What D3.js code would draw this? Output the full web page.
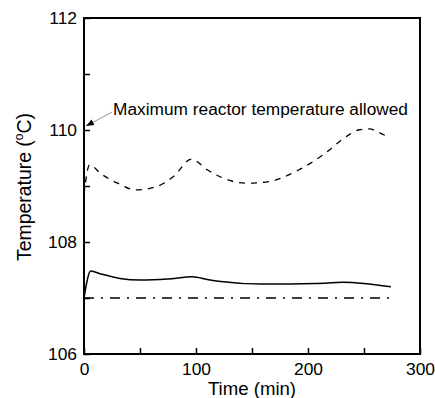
<!DOCTYPE html>
<html>
<head>
<meta charset="utf-8">
<script src="https://cdn.jsdelivr.net/npm/d3@7"></script>
<style>
  body { margin: 0; background: #fff; }
  svg { display: block; }
  text { font-family: Arial, "Liberation Sans", sans-serif; }
</style>
</head>
<body>
<div id="chart"></div>
<script>
// dashed curve
const timeDashed = [0, 5, 15, 30, 46, 65, 80, 96, 110, 121, 144, 165, 192, 213, 234, 245, 255, 262, 270];
const tempDashed = [108.85, 109.38, 109.22, 109.05, 108.93, 108.99, 109.17, 109.48, 109.29, 109.17, 109.05, 109.08, 109.29, 109.55, 109.88, 110.0, 110.02, 109.97, 109.89];
// solid curve
const timeSolid = [0, 6, 15, 32, 50, 75, 97, 110, 120, 159, 207, 231, 250, 274];
const tempSolid = [107.0, 107.48, 107.43, 107.35, 107.32, 107.34, 107.38, 107.33, 107.3, 107.25, 107.26, 107.28, 107.26, 107.2];
// dash-dot line
const timeSet = [0, 273];
const tempSet = [107.0, 107.0];

const xTicks = [0, 50, 100, 150, 200, 250, 300];
const yTicks = [106, 107, 108, 109, 110, 111, 112];
const annotation = "Maximum reactor temperature allowed";

const W = 435, H = 398;
const margin = { top: 18, left: 84 };
const width = 336, height = 336;

const svg = d3.select("#chart").append("svg")
  .attr("width", W).attr("height", H);
const g = svg.append("g")
  .attr("transform", "translate(" + margin.left + "," + margin.top + ")");

const x = d3.scaleLinear().domain([0, 300]).range([0, width]);
const y = d3.scaleLinear().domain([106, 112]).range([height, 0]);

// Axes with inside ticks
const xAxis = g.append("g")
  .attr("transform", "translate(0," + height + ")")
  .call(d3.axisBottom(x).tickValues(xTicks).tickSizeInner(-6).tickSizeOuter(0).tickPadding(9)
    .tickFormat(d => d % 100 === 0 ? d : ""));
const yAxis = g.append("g")
  .call(d3.axisLeft(y).tickValues(yTicks).tickSizeInner(-6).tickSizeOuter(0).tickPadding(7)
    .tickFormat(d => d % 2 === 0 ? d : ""));
[xAxis, yAxis].forEach(a => {
  a.select(".domain").remove();
  a.selectAll("line").attr("stroke", "#000").attr("stroke-width", 1.5);
  a.selectAll("text").attr("font-size", 17.4).attr("fill", "#000")
    .style("font-family", "Arial, 'Liberation Sans', sans-serif");
});

// frame
g.append("rect")
  .attr("x", 0).attr("y", 0).attr("width", width).attr("height", height)
  .attr("fill", "none").attr("stroke", "#000").attr("stroke-width", 2);

const line = d3.line()
  .x(d => x(d[0])).y(d => y(d[1]))
  .curve(d3.curveMonotoneX);

g.append("path")
  .datum(d3.zip(timeDashed, tempDashed))
  .attr("d", line)
  .attr("fill", "none").attr("stroke", "#000").attr("stroke-width", 1.3)
  .attr("stroke-dasharray", "6,6");

g.append("path")
  .datum(d3.zip(timeSolid, tempSolid))
  .attr("d", line)
  .attr("fill", "none").attr("stroke", "#000").attr("stroke-width", 1.5);

g.append("path")
  .datum(d3.zip(timeSet, tempSet))
  .attr("d", d3.line().x(d => x(d[0])).y(d => y(d[1])))
  .attr("fill", "none").attr("stroke", "#000").attr("stroke-width", 1.3)
  .attr("stroke-dasharray", "10,7,2,7");

// annotation with arrow
svg.append("defs").append("marker")
  .attr("id", "arrow").attr("viewBox", "0 0 10 10")
  .attr("refX", 10).attr("refY", 5)
  .attr("markerWidth", 8).attr("markerHeight", 8)
  .attr("markerUnits", "userSpaceOnUse")
  .attr("orient", "auto")
  .append("path").attr("d", "M0,1L10,5L0,9Z").attr("fill", "#000");

g.append("line")
  .attr("x1", x(25)).attr("y1", y(110.32))
  .attr("x2", x(1.8)).attr("y2", y(110.07))
  .attr("stroke", "#777").attr("stroke-width", 0.8)
  .attr("marker-end", "url(#arrow)");

g.append("text")
  .attr("x", x(26)).attr("y", y(110.27))
  .attr("font-size", 17.3).attr("fill", "#000")
  .text(annotation);

// axis titles
svg.append("text")
  .attr("x", margin.left + width / 2).attr("y", 395)
  .attr("text-anchor", "middle").attr("font-size", 18.6)
  .text("Time (min)");

const yl = svg.append("text")
  .attr("transform", "translate(31,187) rotate(-90)")
  .attr("text-anchor", "middle").attr("font-size", 19.4);
yl.append("tspan").text("Temperature (");
yl.append("tspan").attr("font-size", 12).attr("dy", -8).text("o");
yl.append("tspan").attr("dy", 8).text("C)");
</script>
</body>
</html>
